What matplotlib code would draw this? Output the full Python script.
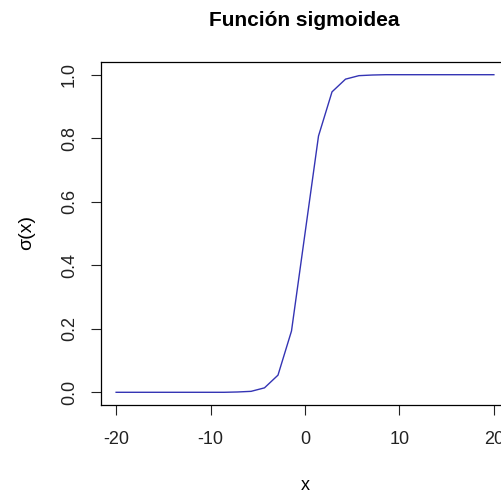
import matplotlib.pyplot as plt

plt.rcParams['font.family'] = ['Liberation Sans', 'DejaVu Sans']

# valores (29 puntos de -20 a 20)
x_vals = [-20.0, -18.57, -17.14, -15.71, -14.29, -12.86, -11.43, -10.0, -8.57, -7.14,
          -5.71, -4.29, -2.86, -1.43, 0.0, 1.43, 2.86, 4.29, 5.71, 7.14,
          8.57, 10.0, 11.43, 12.86, 14.29, 15.71, 17.14, 18.57, 20.0]
y_vals = [0.000, 0.000, 0.000, 0.000, 0.000, 0.000, 0.000, 0.000, 0.000, 0.001,
          0.003, 0.014, 0.054, 0.193, 0.500, 0.807, 0.946, 0.986, 0.997, 0.999,
          1.000, 1.000, 1.000, 1.000, 1.000, 1.000, 1.000, 1.000, 1.000]
x_ticks = [-20, -10, 0, 10, 20]
y_ticks = [0.0, 0.2, 0.4, 0.6, 0.8, 1.0]

W, H = 501, 492
fig = plt.figure(figsize=(W / 100, H / 100), dpi=100)
# caja del grafico en pixeles: izq 101, der 509 (fuera de la imagen), arriba 62, abajo 405
ax = fig.add_axes([101 / W, 1 - 405 / H, (509 - 101) / W, (405 - 62) / H])

ax.plot(x_vals, y_vals, color='#3434b4', lw=1.0)
ax.set_xlim(-21.6, 21.6)
ax.set_ylim(-0.04, 1.04)

ax.set_xticks(x_ticks)
ax.set_xticklabels([str(t) for t in x_ticks])
ax.set_yticks(y_ticks)
ax.set_yticklabels(['%.1f' % t for t in y_ticks], rotation=90, va='center')
ax.tick_params(direction='out', length=7.5, width=0.8, labelsize=13, pad=11, colors='#222222')
ax.tick_params(axis='y', pad=9)
for s in ax.spines.values():
    s.set_linewidth(0.9)

ax.set_xlabel('x', fontsize=13, va='center')
ax.xaxis.set_label_coords(0.5, (405 - 485) / 343)
ax.set_ylabel('σ(x)', fontsize=14, va='center')
ax.yaxis.set_label_coords((27 - 101) / 408, (405 - 233) / 343)

fig.text(304 / W, 1 - 20 / H, 'Función sigmoidea', fontsize=15, fontweight='bold',
         ha='center', va='center')

fig.savefig('out.png', dpi=100)
